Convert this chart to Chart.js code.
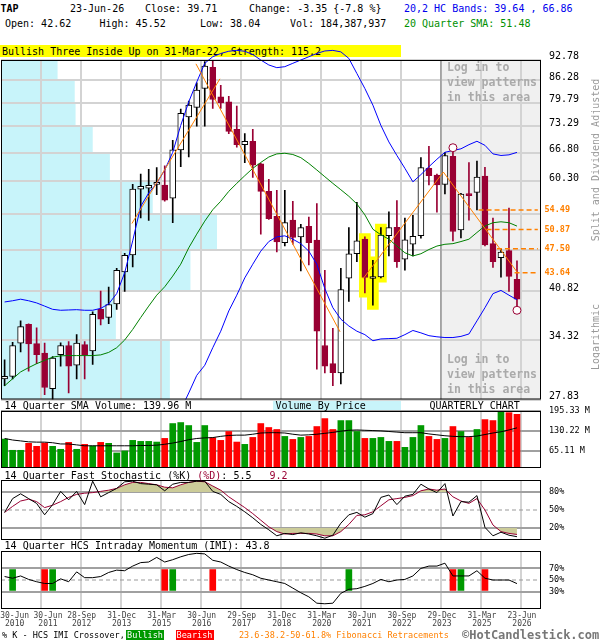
<!DOCTYPE html>
<html>
<head>
<meta charset="utf-8">
<title>TAP quarterly chart</title>
<script src="https://cdn.jsdelivr.net/npm/chart.js@4.4.1/dist/chart.umd.min.js"></script>
<style>
  html, body { margin: 0; padding: 0; background: #fff; }
  #page { position: relative; width: 600px; height: 640px; overflow: hidden;
          font-family: 'DejaVu Sans Mono', monospace; font-size: 10px; color: #000; }
  .t { position: absolute; white-space: pre; line-height: 10px; }
  .s { font-size: 8.5px; line-height: 9px; }
  .login { position: absolute; left: 447px; white-space: pre; font-size: 11.5px; line-height: 14.8px;
           font-weight: bold; color: #aaa; }
  .rot { position: absolute; white-space: pre; color: #999; transform: translate(-50%, -50%) rotate(-90deg); }
  canvas { position: absolute; left: 0; }
</style>
</head>
<body>
<div id="page">
  <div class="t" style="left:0.5px;top:4px;font-weight:bold">TAP</div>
  <div class="t" style="left:70px;top:4px">23-Jun-26</div>
  <div class="t" style="left:145px;top:4px">Close: 39.71</div>
  <div class="t" style="left:249px;top:4px">Change: -3.35 {-7.8 %}</div>
  <div class="t" style="left:404px;top:4px;color:#0000ee">20,2 HC Bands: 39.64 , 66.86</div>
  <div class="t" style="left:5px;top:19px">Open: 42.62</div>
  <div class="t" style="left:99.5px;top:19px">High: 45.52</div>
  <div class="t" style="left:200px;top:19px">Low: 38.04</div>
  <div class="t" style="left:290px;top:19px">Vol: 184,387,937</div>
  <div class="t" style="left:404px;top:19px;color:#009000">20 Quarter SMA: 51.48</div>

  <div style="position:absolute;left:0;top:45px;width:401px;height:12px;background:#ffff00"></div>
  <div class="t" style="left:2px;top:47px">Bullish Three Inside Up on 31-Mar-22, Strength: 115.2</div>
  <div style="position:absolute;left:273px;top:399.5px;width:128px;height:10.5px;background:#c8f4fa"></div>

  <canvas id="mainChart" width="600" height="362" style="top:40px"></canvas>
  <canvas id="volChart" width="600" height="66" style="top:404px"></canvas>
  <canvas id="stochChart" width="600" height="70" style="top:472px"></canvas>
  <canvas id="imiChart" width="600" height="92" style="top:542px"></canvas>

  <div class="login" style="top:60px">Log in to
view patterns
in this area</div>
  <div class="login" style="top:352px">Log in to
view patterns
in this area</div>
  <div class="rot" style="left:595px;top:160px">Split and Dividend Adjusted</div>
  <div class="rot" style="left:595px;top:337px">Logarithmic</div>

  <div class="t" style="left:4.6px;top:401.3px">14 Quarter SMA Volume: 139.96 M</div>
  <div class="t" style="left:275.5px;top:401px">Volume By Price</div>
  <div class="t" style="left:429.5px;top:401.3px">QUARTERLY CHART</div>
  <div class="t" style="left:4.6px;top:471px">14 Quarter Fast Stochastic (%K) <span style="color:#990033">(%D)</span>: 5.5   <span style="color:#990033">9.2</span></div>
  <div class="t" style="left:4.6px;top:541px">14 Quarter HCS Intraday Momentum (IMI): 43.8</div>

  <div class="t s" style="left:2px;top:630.5px">% K - HCS IMI Crossover,</div>
  <div class="t s" style="left:126px;top:630px;width:38px;height:10px;line-height:10px;background:#009900;color:#fff;text-align:center">Bullish</div>
  <div class="t s" style="left:175.5px;top:630px;width:38px;height:10px;line-height:10px;background:#ff0000;color:#fff;text-align:center">Bearish</div>
  <div class="t s" style="left:239px;top:630.5px;color:#ff8000">23.6-38.2-50-61.8% Fibonacci Retracements</div>
  <div class="t" style="left:462px;top:628.5px;font-size:12px;line-height:12px;font-weight:bold;color:#777">&copy;HotCandlestick.com</div>
</div>

<script>
// quarterly candles, Q2 2010 .. Q2 2026
const opens = [29.95, 30.21, 33.99, 36.34, 33.92, 32.82, 28.93, 32.63, 33.70, 31.42,
  33.81, 33.07, 38.32, 37.22, 39.06, 43.75, 46.46, 58.69, 58.90, 59.70,
  59.56, 56.82, 67.47, 75.85, 78.42, 83.86, 90.40, 81.44, 79.98, 72.54,
  68.71, 69.55, 64.21, 58.23, 53.28, 48.55, 52.57, 49.55, 51.45, 49.00,
  33.70, 31.60, 30.58, 42.80, 46.67, 49.15, 42.74, 43.00, 49.74, 51.27,
  45.77, 48.26, 49.74, 63.18, 61.70, 59.70, 65.91, 50.80, 57.42, 58.03,
  61.46, 48.37, 46.03, 47.20, 42.62];
const highs = [32.04, 34.10, 36.78, 36.40, 35.90, 33.99, 32.41, 34.03, 34.17, 35.03,
  34.17, 37.97, 40.87, 41.46, 44.33, 46.72, 59.70, 61.92, 62.96, 63.33,
  63.77, 69.80, 77.96, 80.18, 85.60, 92.24, 92.56, 84.83, 81.53, 78.78,
  71.46, 72.54, 64.30, 60.74, 58.43, 58.43, 56.22, 51.80, 53.16, 55.75,
  44.01, 35.81, 44.33, 51.21, 56.02, 49.55, 45.61, 51.21, 54.15, 56.35,
  52.98, 53.46, 65.62, 68.30, 61.90, 66.88, 66.88, 57.80, 64.51, 64.80,
  63.40, 52.98, 47.53, 54.88, 45.52];
const lows = [29.22, 29.95, 32.96, 30.76, 31.60, 28.30, 27.85, 31.31, 28.49, 29.95,
  29.95, 31.53, 36.25, 36.43, 38.32, 40.82, 44.54, 52.98, 52.51, 57.56,
  56.22, 52.10, 63.55, 65.77, 73.38, 73.38, 78.14, 78.14, 71.46, 68.13,
  64.44, 61.19, 50.03, 52.69, 46.99, 48.00, 48.26, 43.91, 44.86, 30.98,
  30.58, 29.22, 29.40, 39.42, 45.39, 40.60, 38.89, 42.84, 46.30, 44.44,
  44.01, 46.30, 49.32, 59.56, 54.08, 57.69, 48.85, 49.38, 52.57, 54.50,
  48.00, 44.44, 42.95, 40.82, 38.04];
const closes = [30.21, 33.70, 36.03, 33.88, 32.63, 29.04, 32.23, 33.70, 31.31, 33.99,
  32.60, 37.66, 37.00, 38.98, 44.01, 46.41, 58.69, 59.30, 59.50, 59.90,
  56.42, 67.47, 76.77, 79.06, 83.37, 90.83, 80.66, 79.70, 72.04, 68.71,
  69.55, 63.92, 58.23, 52.86, 48.67, 52.10, 49.44, 51.21, 48.55, 35.46,
  31.31, 30.61, 41.09, 46.67, 48.85, 42.90, 42.95, 49.85, 51.21, 45.39,
  49.03, 49.62, 63.33, 61.56, 59.56, 66.13, 50.50, 57.69, 57.36, 61.24,
  48.14, 45.39, 46.94, 43.06, 39.71];

// 20,2 bands and 20 quarter SMA
const bandUpper = [39.33, 39.50, 39.72, 39.50, 39.20, 38.76, 38.32, 38.19, 38.23, 38.27,
  38.19, 38.19, 38.45, 39.06, 40.51, 43.64, 48.85, 55.22, 57.89, 59.90,
  62.81, 66.88, 73.57, 79.98, 85.80, 91.70, 93.86, 94.95, 95.70, 96.00,
  95.70, 94.60, 92.78, 91.16, 90.29, 90.61, 91.70, 92.78, 93.86, 94.95,
  95.80, 96.00, 95.50, 93.30, 88.45, 83.86, 79.06, 73.57, 69.38, 66.13,
  63.18, 60.23, 61.79, 63.55, 65.25, 66.88, 67.30, 67.71, 68.71, 69.55,
  68.55, 66.50, 66.13, 66.28, 66.86];
const bandLower = [null, null, null, null, null, null, null, null, null, null,
  null, null, null, null, null, null, null, null, null, null,
  null, null, 26.83, 28.48, 30.32, 31.42, 33.44, 35.46, 38.10, 40.29,
  42.84, 44.97, 47.10, 48.73, 49.55, 49.73, 49.14, 48.37, 47.10, 44.97,
  41.24, 38.54, 37.00, 36.12, 35.46, 35.03, 34.28, 34.50, 34.54, 34.58,
  35.03, 35.55, 35.25, 34.90, 34.76, 34.67, 34.67, 34.81, 35.11, 36.78,
  38.54, 40.51, 40.98, 40.29, 39.64];
const sma20 = [29.22, 29.95, 30.69, 31.16, 31.60, 31.97, 32.34, 32.49, 32.52, 32.52,
  32.52, 32.52, 32.60, 32.89, 33.44, 34.37, 35.68, 37.22, 38.76, 40.29,
  41.51, 43.11, 44.97, 47.66, 50.03, 52.39, 54.55, 56.22, 58.23, 59.90,
  61.55, 63.18, 64.51, 65.77, 66.50, 66.65, 66.36, 65.62, 64.29, 62.81,
  61.33, 59.90, 58.56, 57.22, 55.68, 53.57, 50.91, 49.91, 49.14, 47.96,
  46.83, 46.30, 46.67, 47.37, 47.96, 48.26, 48.37, 48.73, 49.14, 50.32,
  51.50, 52.10, 52.27, 52.10, 51.48];

// volume (millions) and its 14 quarter SMA
const volumes = [103.1, 66.2, 66.2, 89.0, 79.2, 90.1, 79.2, 69.5, 92.2, 69.5,
  85.7, 80.3, 92.2, 89.0, 57.5, 64.0, 98.8, 95.5, 95.5, 93.3,
  105.3, 154.1, 157.4, 147.6, 92.2, 147.6, 107.4, 98.8, 128.0, 93.3,
  85.7, 108.5, 154.1, 141.1, 134.6, 111.8, 102.0, 108.5, 111.8, 144.3,
  170.4, 134.6, 163.9, 163.9, 128.0, 105.3, 105.3, 108.5, 95.5, 95.5,
  76.0, 108.5, 147.6, 111.8, 102.0, 105.3, 144.3, 128.0, 108.5, 134.6,
  167.1, 163.9, 205.0, 189.9, 184.4];
const volSma = [105, 100, 97, 94, 93, 93, 91, 87, 87, 84,
  81, 81, 81, 81, 81, 81, 81, 82, 82, 83,
  86, 90, 95, 101, 105, 107, 108, 112, 115, 116,
  116, 119, 123, 124, 124, 123, 119, 116, 117, 119,
  122, 125, 129, 132, 133, 132, 131, 130, 128, 126,
  124, 124, 124, 120, 117, 114, 112, 111, 111, 113,
  118, 123, 127, 133, 140];

// 14 quarter fast stochastic and HCS intraday momentum
const stochK = [46, 69, 77, 69, 61, 42, 59, 81, 67, 81,
  59, 98, 72, 79, 86, 97, 98, 94, 93, 92,
  82, 93, 96, 96, 98, 98, 81, 76, 64, 56,
  47, 37, 26, 17, 7, 11, 9, 12, 10, 7,
  3, 8, 28, 42, 46, 38, 44, 71, 75, 59,
  73, 76, 93, 85, 79, 94, 40, 64, 63, 74,
  21, 7, 13, 8, 5.5];
const stochD = [46, 56, 65, 68, 64, 54, 58, 64, 71, 76,
  78, 79, 81, 83, 86, 92, 96, 96, 94, 92,
  88, 87, 92, 96, 98, 97, 90, 83, 72, 63,
  54, 44, 33, 22, 14, 10, 11, 11, 11, 10,
  7, 7, 14, 26, 41, 42, 47, 57, 67, 69,
  71, 74, 82, 85, 83, 85, 72, 65, 61, 69,
  50, 25, 14, 11, 9.2];
const imi = [56, 53, 57, 51, 47, 44, 44, 52, 47, 64,
  54, 54, 56, 63, 67, 66, 74, 80, 81, 89,
  81, 85, 90, 94, 96, 95, 84, 81, 74, 68,
  63, 59, 53, 50, 47, 44, 36, 28, 21, 10,
  9, 10, 27, 34, 35, 39, 44, 51, 47, 50,
  51, 57, 70, 74, 74, 79, 57, 57, 57, 66,
  53, 50, 50, 50, 43.8];
const bullCross = [1, 6, 21, 43, 57];
const bearCross = [5, 20, 26, 56, 60];
const crossRange = [32, 68];

// pattern, markers, trend lines, fibonacci levels
const patternIdx = [45, 46, 47];
const markerIdx = [56, 64];
const markerPrice = [67.97, 38.19];
const trendStartX = [15.9, 23.9, 44.8, 54.8];
const trendStartY = [51.95, 91.53, 42.75, 62.36];
const trendEndX = [26.9, 41.9, 54.8, 64.0];
const trendEndY = [86.80, 35.38, 62.36, 43.76];
const fibLevels = [54.49, 50.87, 47.50, 43.64];
const fibStart = [59.2, 60.2, 61.5, 63.7];
const fibEnd = 66.6;

// volume by price, one value per price band between priceTicks
const vbpVolume = [152, 89, 176, 207, 132, 82, 62, 42, 41, 21];
const loginFrom = 54.5;

// axes
const priceTicks = [27.83, 34.32, 40.82, 47.31, 53.81, 60.30, 66.80, 73.29, 79.79, 86.28, 92.78];
const hiddenPriceLabels = [47.31, 53.81];
const volTicks = [65.11, 130.22, 195.33];
const stochTicks = [20, 50, 80];
const imiTicks = [30, 50, 70];
const xLabelIdx = [0, 4, 9, 14, 19, 24, 29, 34, 39, 44, 49, 54, 59, 64];
const xLabelText = ['30-Jun 2010', '30-Jun 2011', '28-Sep 2012', '31-Dec 2013', '31-Mar 2015',
  '30-Jun 2016', '29-Sep 2017', '31-Dec 2018', '31-Mar 2020', '30-Jun 2021', '30-Sep 2022',
  '29-Dec 2023', '31-Mar 2025', '23-Jun 2026'];

const xMin = -0.45, xMax = 67.0;
const gridIdx = xLabelIdx.slice(1).map(i => i + 0.5);
// label anchors: the first two are nudged apart so they do not overlap
const labelPos = xLabelIdx.map((i, k) => k === 0 ? 1.26 : (k === 1 ? 5.42 : i + 0.62));
const maroon = '#990033';
const orange = '#ff8000';
const idx = opens.map((_, i) => i);
const isUp = i => closes[i] >= opens[i];

Chart.defaults.font.family = "'DejaVu Sans Mono', monospace";
Chart.defaults.animation = false;
Chart.defaults.plugins.legend.display = false;
Chart.defaults.plugins.tooltip.enabled = false;

function noPad(s) {
  s.paddingTop = 0; s.paddingBottom = 0; s.paddingLeft = 0; s.paddingRight = 0;
}

function makeX() {
  return {
    type: 'linear', min: xMin, max: xMax, offset: false,
    border: { display: false },
    grid: { offset: false, drawTicks: false, lineWidth: 2, color: '#d3d3d3' },
    ticks: { display: false },
    afterBuildTicks: s => { s.ticks = gridIdx.map(v => ({ value: v })); },
    afterFit: s => { s.height = 0; noPad(s); }
  };
}

function makeLabelX() {
  return {
    type: 'linear', axis: 'x', position: 'bottom', min: xMin, max: xMax, offset: false,
    border: { display: false },
    grid: { display: false, drawTicks: false },
    ticks: {
      autoSkip: false, maxRotation: 0, minRotation: 0, padding: 3, color: '#444',
      font: { size: 8, lineHeight: 1.0 },
      callback: (v, i) => xLabelText[i].split(' ')
    },
    afterBuildTicks: s => { s.ticks = labelPos.map(v => ({ value: v })); },
    afterFit: s => { s.height = 25; noPad(s); }
  };
}

function makeY(o) {
  return {
    type: o.type || 'linear', position: 'right', min: o.min, max: o.max,
    border: { display: false },
    grid: { drawTicks: false, lineWidth: 2, color: o.gridColor },
    ticks: {
      padding: 8, color: '#000', font: { size: o.fontSize },
      labelOffset: o.labelOffset || 0, callback: o.label
    },
    afterBuildTicks: s => { s.ticks = o.ticks.map(v => ({ value: v })); },
    afterFit: s => { s.width = 59; noPad(s); }
  };
}

function flatLine(y, color, dash) {
  return {
    type: 'line', data: [{ x: xMin, y: y }, { x: xMax, y: y }],
    borderColor: color, borderWidth: 1, borderDash: dash, pointRadius: 0, order: 9
  };
}

const boxPlugin = {
  id: 'box',
  afterDraw(chart) {
    const a = chart.chartArea, c = chart.ctx;
    c.save();
    c.strokeStyle = '#000';
    c.lineWidth = 1;
    c.strokeRect(a.left + 0.5, a.top + 0.5, a.width - 1, a.height - 1);
    c.restore();
  }
};

const mainBackPlugin = {
  id: 'mainBack',
  beforeDraw(chart) {
    const { ctx, chartArea: a, scales } = chart;
    const y = scales.y, xv = scales.xv;
    ctx.save();
    ctx.fillStyle = '#c8f4fa';
    vbpVolume.forEach((v, k) => {
      const top = y.getPixelForValue(priceTicks[k + 1]);
      const bot = y.getPixelForValue(priceTicks[k]);
      ctx.fillRect(a.left, top, xv.getPixelForValue(v) - a.left, bot - top);
    });
    const lx = scales.x.getPixelForValue(loginFrom);
    ctx.fillStyle = '#f0f0f0';
    ctx.fillRect(lx, a.top, a.right - lx, a.height);
    ctx.restore();
  },
  beforeDatasetsDraw(chart) {
    const { ctx, chartArea: a, scales } = chart;
    const lx = scales.x.getPixelForValue(loginFrom);
    ctx.save();
    ctx.strokeStyle = '#999';
    ctx.lineWidth = 1.5;
    ctx.beginPath();
    ctx.moveTo(lx, a.top);
    ctx.lineTo(lx, a.bottom);
    ctx.stroke();
    ctx.restore();
  },
  afterDatasetsDraw(chart) {
    const { ctx, chartArea: a, scales } = chart;
    ctx.save();
    ctx.fillStyle = orange;
    ctx.font = "bold 8.5px 'DejaVu Sans Mono', monospace";
    ctx.textBaseline = 'middle';
    fibLevels.forEach(v => ctx.fillText(v.toFixed(2), a.right + 3.5, scales.y.getPixelForValue(v)));
    ctx.restore();
  }
};

// main price panel
const trendSets = trendStartX.map((x0, k) => ({
  type: 'line', data: [{ x: x0, y: trendStartY[k] }, { x: trendEndX[k], y: trendEndY[k] }],
  borderColor: orange, borderWidth: 1, pointRadius: 0, order: 2
}));
const fibSets = fibLevels.map((v, k) => ({
  type: 'line', data: [{ x: fibStart[k], y: v }, { x: fibEnd, y: v }],
  borderColor: orange, borderWidth: 1.5, borderDash: [5, 3], pointRadius: 0, order: 2
}));

new Chart(document.getElementById('mainChart'), {
  type: 'bar',
  data: {
    datasets: [
      {
        data: patternIdx.map(i => ({ x: i, y: [lows[i] * 0.985, highs[i] * 1.012] })),
        backgroundColor: '#ffff00', barThickness: 11, grouped: false, order: 10
      },
      {
        data: idx.map(i => ({ x: i, y: [lows[i], highs[i]] })),
        backgroundColor: idx.map(i => isUp(i) ? '#000' : maroon),
        barThickness: 1, grouped: false, order: 6
      },
      {
        data: idx.map(i => ({ x: i, y: [Math.min(opens[i], closes[i]), Math.max(opens[i], closes[i])] })),
        backgroundColor: idx.map(i => isUp(i) ? '#fff' : maroon),
        borderColor: idx.map(i => isUp(i) ? '#000' : maroon),
        borderWidth: 1, borderSkipped: false, barThickness: 6, minBarLength: 2,
        grouped: false, order: 5
      },
      {
        type: 'line', data: idx.map(i => ({ x: i, y: sma20[i] })),
        borderColor: '#008000', borderWidth: 1, pointRadius: 0, order: 3
      },
      {
        type: 'line', data: idx.map(i => ({ x: i, y: bandUpper[i] })), clip: false,
        borderColor: '#0000ff', borderWidth: 1, pointRadius: 0, order: 3
      },
      {
        type: 'line', data: idx.map(i => ({ x: i, y: bandLower[i] })),
        borderColor: '#0000ff', borderWidth: 1, pointRadius: 0, order: 3
      },
      ...trendSets,
      ...fibSets,
      {
        type: 'scatter', data: markerIdx.map((x, k) => ({ x: x, y: markerPrice[k] })),
        pointRadius: 4, pointBackgroundColor: '#fff', pointBorderColor: maroon,
        pointBorderWidth: 1, order: 1
      }
    ]
  },
  options: {
    responsive: false,
    layout: { autoPadding: false, padding: { left: 1, right: 0, top: 20, bottom: 2.5 } },
    scales: {
      x: makeX(),
      xv: { type: 'linear', axis: 'x', display: false, min: 0, max: 540 },
      y: makeY({
        type: 'logarithmic', min: priceTicks[0], max: priceTicks[priceTicks.length - 1],
        ticks: priceTicks, gridColor: '#d3d3d3', fontSize: 10, labelOffset: -3.5,
        label: v => hiddenPriceLabels.includes(v) ? '' : v.toFixed(2)
      })
    }
  },
  plugins: [mainBackPlugin, boxPlugin]
});

// volume panel
new Chart(document.getElementById('volChart'), {
  type: 'bar',
  data: {
    datasets: [
      {
        type: 'line', data: idx.map(i => ({ x: i, y: volSma[i] })),
        borderColor: '#000', borderWidth: 1, pointRadius: 0, order: 1
      },
      {
        data: idx.map(i => ({ x: i, y: volumes[i] })),
        backgroundColor: idx.map(i => isUp(i) ? '#009900' : '#ff0000'),
        barThickness: 6, grouped: false, order: 5
      }
    ]
  },
  options: {
    responsive: false,
    layout: { autoPadding: false, padding: { left: 1, right: 0, top: 7, bottom: 2 } },
    scales: {
      x: makeX(),
      y: makeY({
        min: 8, max: 195.33, ticks: volTicks, gridColor: '#a0a0a0', fontSize: 8.5,
        label: v => v.toFixed(2) + ' M'
      })
    }
  },
  plugins: [boxPlugin]
});

// fast stochastic panel
const khaki = '#cccc99';
new Chart(document.getElementById('stochChart'), {
  type: 'line',
  data: {
    datasets: [
      {
        data: idx.map(i => ({ x: i, y: stochK[i] })),
        borderColor: '#000', borderWidth: 1, pointRadius: 0, order: 1
      },
      {
        data: idx.map(i => ({ x: i, y: stochD[i] })),
        borderColor: maroon, borderWidth: 1, pointRadius: 0, order: 2
      },
      {
        data: idx.map(i => ({ x: i, y: stochD[i] })), borderWidth: 0, pointRadius: 0,
        fill: { target: { value: 80 }, above: khaki, below: 'rgba(0,0,0,0)' }, order: 8
      },
      {
        data: idx.map(i => ({ x: i, y: stochD[i] })), borderWidth: 0, pointRadius: 0,
        fill: { target: { value: 20 }, above: 'rgba(0,0,0,0)', below: khaki }, order: 8
      },
      flatLine(50, '#999', [4, 3])
    ]
  },
  options: {
    responsive: false,
    layout: { autoPadding: false, padding: { left: 1, right: 0, top: 8, bottom: 2 } },
    scales: {
      x: makeX(),
      y: makeY({
        min: 0, max: 100, ticks: stochTicks, fontSize: 8.5,
        gridColor: c => c.tick.value === 50 ? 'rgba(0,0,0,0)' : '#a0a0a0',
        label: v => v + '%'
      })
    }
  },
  plugins: [boxPlugin]
});

// intraday momentum panel, carries the date axis
new Chart(document.getElementById('imiChart'), {
  type: 'bar',
  data: {
    datasets: [
      {
        type: 'line', data: idx.map(i => ({ x: i, y: imi[i] })),
        borderColor: '#000', borderWidth: 1, pointRadius: 0, order: 1
      },
      {
        data: bullCross.map(i => ({ x: i, y: crossRange })),
        backgroundColor: '#009900', barThickness: 6, grouped: false, order: 5
      },
      {
        data: bearCross.map(i => ({ x: i, y: crossRange })),
        backgroundColor: '#ff0000', barThickness: 6, grouped: false, order: 5
      },
      flatLine(50, '#999', [4, 3])
    ]
  },
  options: {
    responsive: false,
    layout: { autoPadding: false, padding: { left: 1, right: 0, top: 9, bottom: 0 } },
    scales: {
      x: makeX(),
      xl: makeLabelX(),
      y: makeY({
        min: 0, max: 100, ticks: imiTicks, fontSize: 8.5,
        gridColor: c => c.tick.value === 50 ? 'rgba(0,0,0,0)' : '#a0a0a0',
        label: v => v + '%'
      })
    }
  },
  plugins: [boxPlugin]
});
</script>
</body>
</html>
